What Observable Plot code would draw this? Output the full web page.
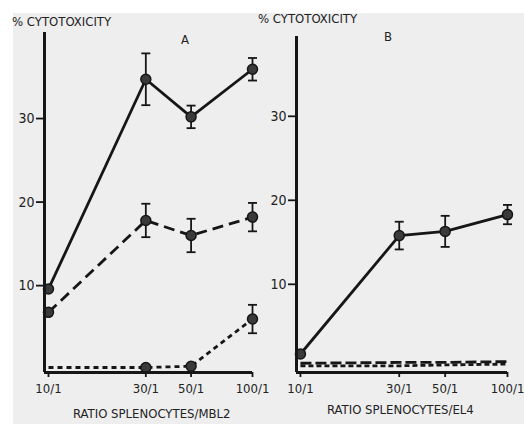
<!DOCTYPE html>
<html>
<head>
<meta charset="utf-8">
<script src="https://cdn.jsdelivr.net/npm/d3@7"></script>
<script src="https://cdn.jsdelivr.net/npm/@observablehq/plot@0.6"></script>
<style>
  html, body { margin: 0; padding: 0; background: #ffffff; }
  #wrap { position: relative; width: 524px; height: 424px; overflow: hidden; }
  #paper { position: absolute; left: 13px; top: 13px; right: 0; bottom: 0; background: #eeeeee; }
  .pl { position: absolute; top: 0; }
  .pl svg { overflow: visible; }
  .txt { position: absolute; font-family: "DejaVu Sans Condensed", "Liberation Sans Narrow", sans-serif; color: #222; white-space: nowrap; }
</style>
</head>
<body>
<div id="wrap">
  <div id="paper"></div>
  <div id="pa" class="pl" style="left:0px"></div>
  <div id="pb" class="pl" style="left:262px"></div>
  <div class="txt" style="left:12px; top:14px; font-size:13px;">% CYTOTOXICITY</div>
  <div class="txt" style="left:258px; top:11px; font-size:13px;">% CYTOTOXICITY</div>
  <div class="txt" style="left:181px; top:32px; font-size:13px;">A</div>
  <div class="txt" style="left:384px; top:29px; font-size:13px;">B</div>
  <div class="txt" style="left:73px; top:406px; font-size:13px;">RATIO SPLENOCYTES/MBL2</div>
  <div class="txt" style="left:327px; top:402px; font-size:13px;">RATIO SPLENOCYTES/EL4</div>
</div>
<script>
// ---- data ----
const ratios = [10, 30, 50, 100];
const ratioLabels = ["10/1", "30/1", "50/1", "100/1"];
const yTicks = [10, 20, 30];

// Panel A (splenocytes / MBL2)
const A_solid     = [9.6, 34.7, 30.2, 35.9];
const A_solid_err = [null, 3.1, 1.35, 1.35];
const A_dash      = [6.8, 17.8, 16.0, 18.2];
const A_dash_err  = [null, 2.0, 2.0, 1.7];
const A_dot       = [0.2, 0.2, 0.35, 6.0];
const A_dot_err   = [null, null, null, 1.7];
const A_dot_marker = [false, true, true, true];

// Panel B (splenocytes / EL4)
const B_solid     = [1.7, 15.8, 16.3, 18.3];
const B_solid_err = [null, 1.65, 1.85, 1.15];
const B_dash      = [0.6, 0.7, 0.7, 0.8];
const B_dot       = [0.3, 0.3, 0.4, 0.5];

// ---- helpers ----
function rows(vals, err, markers) {
  return ratios.map((r, i) => ({
    x: r, y: vals[i],
    lo: err && err[i] != null ? vals[i] - err[i] : null,
    hi: err && err[i] != null ? vals[i] + err[i] : null,
    m: markers ? markers[i] : true
  }));
}
const capSymbol = { draw(ctx) { ctx.moveTo(-4.5, 0); ctx.lineTo(4.5, 0); } };
const ink = "#161616";
const font = '"DejaVu Sans Condensed", "Liberation Sans Narrow", sans-serif';

function seriesMarks(data, dash, showMarkers) {
  const marks = [
    Plot.line(data, { x: "x", y: "y", stroke: ink, strokeWidth: 2.8, strokeDasharray: dash, strokeLinecap: "butt" })
  ];
  const eb = data.filter(d => d.lo != null);
  if (eb.length) {
    marks.push(Plot.link(eb, { x1: "x", x2: "x", y1: "lo", y2: "hi", stroke: ink, strokeWidth: 1.8 }));
    marks.push(Plot.dot(eb, { x: "x", y: "lo", symbol: capSymbol, stroke: ink, strokeWidth: 1.8, r: 4 }));
    marks.push(Plot.dot(eb, { x: "x", y: "hi", symbol: capSymbol, stroke: ink, strokeWidth: 1.8, r: 4 }));
  }
  if (showMarkers) {
    marks.push(Plot.dot(data.filter(d => d.m), { x: "x", y: "y", r: 5, fill: "#3a3a3a", stroke: ink, strokeWidth: 1.5 }));
  }
  return marks;
}

function panel(el, opt) {
  const { ml, mr, mt, mb, xdom, ydom, series } = opt;
  const chart = Plot.plot({
    width: 262, height: 424,
    marginLeft: ml, marginRight: mr, marginTop: mt, marginBottom: mb,
    style: { background: "transparent", fontFamily: font, color: "#222", overflow: "visible" },
    x: { type: "log", domain: xdom, axis: null },
    y: { domain: ydom, axis: null },
    marks: [
      ...series.flatMap(s => seriesMarks(s.data, s.dash, s.markers)),
      Plot.ruleX([xdom[0]], { y1: ydom[0], y2: ydom[1], stroke: ink, strokeWidth: 3 }),
      Plot.ruleY([ydom[0]], { x1: xdom[0], x2: ratios[ratios.length - 1], stroke: ink, strokeWidth: 3 }),
      Plot.axisY({ ticks: yTicks, tickFormat: d => String(d), tickSize: 8, tickPadding: 2, fontSize: 14, stroke: ink, strokeWidth: 1.8, label: null }),
      Plot.axisX({ ticks: ratios, tickFormat: (d) => ratioLabels[ratios.indexOf(d)], tickSize: 5, tickPadding: 6, fontSize: 13, stroke: ink, strokeWidth: 1.8, label: null })
    ]
  });
  document.getElementById(el).appendChild(chart);
}

panel("pa", {
  ml: 44, mr: 10, mt: 32, mb: 52,
  xdom: [9.56, 100], ydom: [-0.4, 40.3],
  series: [
    { data: rows(A_solid, A_solid_err), dash: null, markers: true },
    { data: rows(A_dash, A_dash_err), dash: "11,6", markers: true },
    { data: rows(A_dot, A_dot_err, A_dot_marker), dash: "5,4", markers: true }
  ]
});

panel("pb", {
  ml: 34, mr: 17, mt: 36, mb: 52,
  xdom: [9.57, 100], ydom: [-0.5, 39.5],
  series: [
    { data: rows(B_solid, B_solid_err), dash: null, markers: true },
    { data: rows(B_dash, null), dash: "11,4", markers: false },
    { data: rows(B_dot, null), dash: "5,3", markers: false }
  ]
});
</script>
</body>
</html>
